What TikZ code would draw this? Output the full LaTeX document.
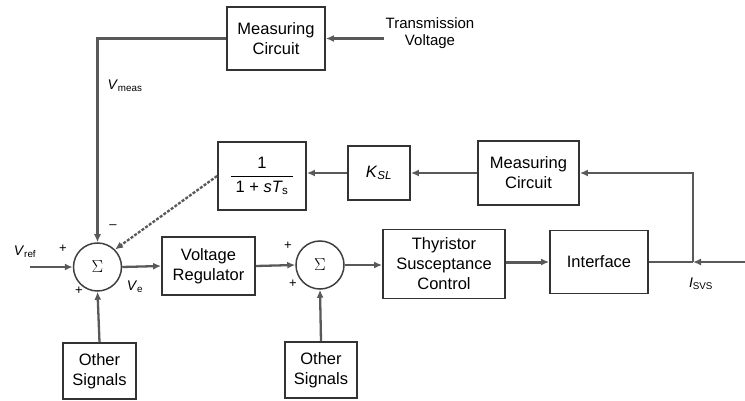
\documentclass[tikz,border=0pt]{standalone}
\usepackage{amsmath}
\usepackage{fontspec}
\setmainfont{Liberation Sans}
\usetikzlibrary{arrows.meta,calc}
\begin{document}
\begin{tikzpicture}[x=1pt,y=-1pt,
 blk/.style={draw=black!80,line width=1.8pt,fill=white,align=center,font=\fontsize{16.5}{20}\selectfont,inner sep=0pt},
 sumc/.style={circle,draw=black!75,line width=1.5pt,minimum size=48pt,inner sep=0pt,font=\fontsize{18}{18}\selectfont},
 conn/.style={draw=black!65,line width=2.3pt,-{Latex[length=8pt,width=7pt]}},
 wire/.style={draw=black!65,line width=2.3pt},
 lbl/.style={font=\fontsize{14}{14}\selectfont,inner sep=1pt},
 sgn/.style={font=\fontsize{13}{13}\selectfont,inner sep=0pt}]
\useasboundingbox (0,0) rectangle (745,401);
% blocks
\node[blk,minimum width=98pt,minimum height=63pt] (mc1) at (276,38.5) {Measuring\\Circuit};
\node[lbl,align=center,font=\fontsize{15}{17}\selectfont] (tv) at (430,33) {Transmission\\Voltage};
\node[blk,minimum width=88pt,minimum height=68pt] (tf) at (262,176) {$\displaystyle\frac{\text{1}}{\;\text{1 + }\textit{sT}_{\text{s}}\;}$};
\node[blk,minimum width=62pt,minimum height=54pt] (ksl) at (379,173) {\textit{K}\textsubscript{\textit{SL}}};
\node[blk,minimum width=101pt,minimum height=64pt] (mc2) at (528.5,173) {Measuring\\Circuit};
\node[blk,minimum width=93pt,minimum height=58pt] (vr) at (208.5,266) {Voltage\\Regulator};
\node[blk,minimum width=122pt,minimum height=69pt] (tsc) at (444,264) {Thyristor\\Susceptance\\Control};
\node[blk,minimum width=98pt,minimum height=63pt] (intf) at (599,262) {Interface};
\node[sumc] (s1) at (97.5,267) {$\Sigma$};
\node[sumc] (s2) at (320,265) {$\Sigma$};
\node[blk,minimum width=73pt,minimum height=56pt] (os1) at (99.5,371) {Other\\Signals};
\node[blk,minimum width=72pt,minimum height=56pt] (os2) at (321,370) {Other\\Signals};
% coordinates
\coordinate (vin) at (30,267);
\coordinate (j) at (693,262);
\coordinate (rin) at (745,262);
% connectors
\draw[conn] (tv.west |- mc1.east) -- (mc1.east);
\draw[conn] (mc1.west) -| (s1.north);
\draw[conn,dash pattern=on 3pt off 1.5pt] (tf.west) -- (s1.45);
\draw[conn] (vin) -- (s1.west);
\draw[conn] (s1.east) -- (vr.west);
\draw[conn] (vr.east) -- (s2.west);
\draw[conn] (s2.east) -- (tsc.west |- s2.east);
\draw[conn,line width=3pt] (tsc.east |- intf.west) -- (intf.west);
\draw[wire] (intf.east) -- (j);
\draw[conn] (rin) -- (j);
\draw[conn] (j) |- (mc2.east);
\draw[conn] (mc2.west) -- (ksl.east);
\draw[conn] (ksl.west) -- (tf.east |- ksl.west);
\draw[conn] (os1.north) -- (s1.south);
\draw[conn] (os2.north) -- (s2.south);
% labels
\node[lbl] (lvm) at (125,86) {\textit{V}\textsubscript{meas}};
\node[lbl] (lvr) at (25,252) {\textit{V}\textsubscript{ref}};
\node[lbl] (lve) at (135,287) {\textit{V}\textsubscript{e}};
\node[lbl] (lis) at (701,284) {\textit{I}\textsubscript{SVS}};
\node[sgn] (p1) at (63,249) {+};
\node[sgn] (p2) at (79,291) {+};
\node[sgn] (m1) at (113,227) {--};
\node[sgn] (p3) at (288,246) {+};
\node[sgn] (p4) at (293,284) {+};
\end{tikzpicture}
\end{document}
